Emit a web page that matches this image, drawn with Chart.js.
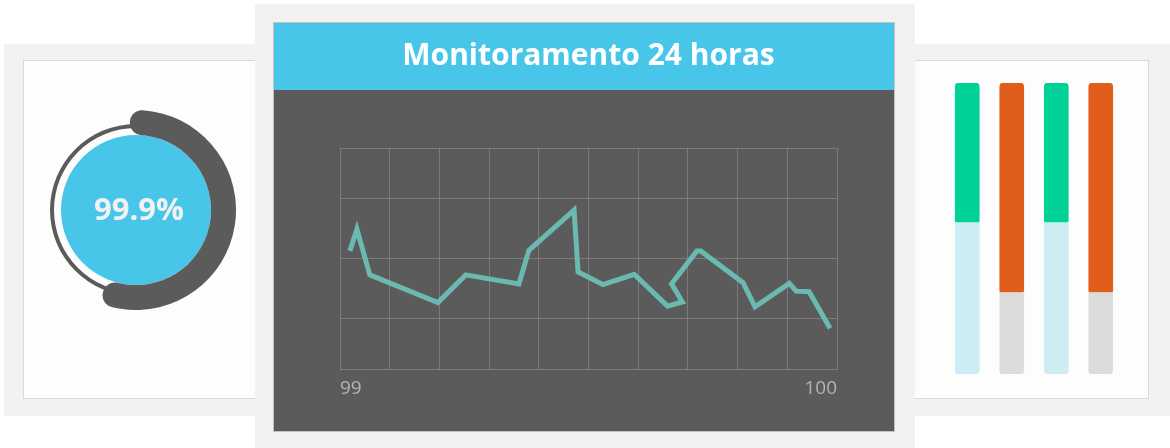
<!DOCTYPE html>
<html>
<head>
<meta charset="utf-8">
<title>Monitoramento 24 horas</title>
<script src="https://cdn.jsdelivr.net/npm/chart.js"></script>
<style>
  html, body { margin: 0; padding: 0; background: #ffffff; }
  body { width: 1170px; height: 448px; position: relative; overflow: hidden; }
  .frame { position: absolute; background: #f2f2f2; }
  .card { position: absolute; background: #fdfdfd; border: 1px solid #d9d9d9; box-sizing: border-box; }
  .box { position: absolute; }
  #panel { background: linear-gradient(#47c6e9 0 67px, #5b5b5b 67px); outline: 1px solid #c4c4c4; }
</style>
</head>
<body>
  <!-- left card: gauge -->
  <div class="frame" style="left:4px;top:44px;width:300px;height:372px"></div>
  <div class="card" style="left:23px;top:60px;width:280px;height:339px"></div>
  <div class="box" style="left:50px;top:124px;width:172px;height:172px"><canvas id="gaugeBase"></canvas></div>
  <div class="box" style="left:36px;top:110px;width:200px;height:200px"><canvas id="gaugeArc"></canvas></div>

  <!-- right card: bars -->
  <div class="frame" style="left:880px;top:44px;width:290px;height:372px"></div>
  <div class="card" style="left:880px;top:60px;width:269px;height:339px"></div>
  <div class="box" style="left:915px;top:60px;width:233px;height:338px"><canvas id="bars"></canvas></div>

  <!-- middle card: 24h line -->
  <div class="frame" style="left:255px;top:4px;width:660px;height:444px"></div>
  <div class="box" id="panel" style="left:274px;top:23px;width:620px;height:408px"><canvas id="line"></canvas></div>

<script>
// gauge
const gaugeLabel = '99.9%';
const gaugeValues = [57.2, 42.8];
const ringValues = [100];

// 24h line
const chartTitle = 'Monitoramento 24 horas';
const lineX = [99.02, 99.034, 99.06, 99.197, 99.253, 99.36, 99.38, 99.471, 99.479, 99.529, 99.592,
               99.659, 99.689, 99.667, 99.718, 99.726, 99.811, 99.835, 99.904, 99.918, 99.944, 99.986];
const lineY = [2.12, 2.48, 1.72, 1.26, 1.72, 1.57, 2.13, 2.80, 1.77, 1.56, 1.73,
               1.20, 1.27, 1.57, 2.12, 2.12, 1.59, 1.19, 1.58, 1.45, 1.44, 0.83];
const xGridValues = [99, 99.1, 99.2, 99.3, 99.4, 99.5, 99.6, 99.7, 99.8, 99.9, 100];
const xTickLabels = ['99', '', '', '', '', '', '', '', '', '', '100'];
const yGridValues = [0.15, 1, 2, 3, 3.833];

// bars
const barLabels = ['1', '2', '3', '4'];
const barLower = [52, 28, 52, 28];
const barUpper = [48, 72, 48, 72];
const lowerColors = ['#cdedf4', '#dcdcdc', '#cdedf4', '#dcdcdc'];
const upperColors = ['#00d196', '#e05d1c', '#00d196', '#e05d1c'];

Chart.defaults.font.family = "'Open Sans', sans-serif";
Chart.defaults.animation = false;
Chart.defaults.plugins.legend.display = false;
Chart.defaults.plugins.tooltip.enabled = false;

const CYAN = '#47c6e9';
const DARK = '#5b5b5b';

// text in the middle of the gauge
const centerText = {
    id: 'centerText',
    afterDraw(chart) {
        const {ctx, chartArea} = chart;
        const cx = (chartArea.left + chartArea.right) / 2;
        const cy = (chartArea.top + chartArea.bottom) / 2;
        ctx.save();
        ctx.font = "bold 31px 'Open Sans', sans-serif";
        ctx.fillStyle = '#f2f2f2';
        ctx.textAlign = 'center';
        ctx.textBaseline = 'middle';
        ctx.fillText(gaugeLabel, cx + 3, cy + 1);
        ctx.restore();
    }
};

const arcCommon = { borderWidth: 0, hoverBorderWidth: 0, hoverOffset: 0, offset: 0 };

// thin ring + cyan disc
new Chart(document.getElementById('gaugeBase'), {
    type: 'doughnut',
    data: {
        datasets: [
            { data: ringValues, weight: 4, backgroundColor: [DARK], ...arcCommon },
            { data: ringValues, weight: 7, backgroundColor: ['rgba(0,0,0,0)'], ...arcCommon },
            { data: ringValues, weight: 75, backgroundColor: [CYAN], ...arcCommon }
        ]
    },
    options: { responsive: true, maintainAspectRatio: false, cutout: 0 },
    plugins: [centerText]
});

// thick rounded arc
new Chart(document.getElementById('gaugeArc'), {
    type: 'doughnut',
    data: {
        datasets: [{
            data: gaugeValues,
            backgroundColor: [DARK, 'rgba(0,0,0,0)'],
            borderRadius: 12,
            ...arcCommon
        }]
    },
    options: { responsive: true, maintainAspectRatio: false, cutout: '75%', rotation: -4 }
});

// line chart
new Chart(document.getElementById('line'), {
    type: 'scatter',
    data: {
        datasets: [{
            data: lineX.map((x, i) => ({x: x, y: lineY[i]})),
            showLine: true,
            borderColor: '#6bbab2',
            borderWidth: 5,
            pointRadius: 0,
            pointHoverRadius: 0,
            borderJoinStyle: 'miter'
        }]
    },
    options: {
        responsive: true,
        maintainAspectRatio: false,
        layout: { padding: { left: 66, right: 57, top: 0, bottom: 23 } },
        plugins: {
            title: {
                display: true,
                text: chartTitle,
                color: '#ffffff',
                font: { size: 30, weight: 'bold' },
                padding: { top: 15, bottom: 74 }
            }
        },
        scales: {
            x: {
                type: 'linear',
                min: 99,
                max: 100,
                afterBuildTicks: (scale) => { scale.ticks = xGridValues.map(v => ({value: v})); },
                grid: { color: '#7b7b7b', drawTicks: false },
                border: { color: '#7b7b7b' },
                ticks: {
                    align: 'inner',
                    padding: 8,
                    color: '#b4b4b4',
                    font: { size: 19 },
                    maxRotation: 0,
                    autoSkip: false,
                    callback: (value, index) => xTickLabels[index]
                }
            },
            y: {
                type: 'linear',
                min: yGridValues[0],
                max: yGridValues[yGridValues.length - 1],
                afterBuildTicks: (scale) => { scale.ticks = yGridValues.map(v => ({value: v})); },
                grid: { color: '#7b7b7b', drawTicks: false },
                border: { color: '#7b7b7b' },
                ticks: { display: false }
            }
        }
    }
});

// stacked bars
new Chart(document.getElementById('bars'), {
    type: 'bar',
    data: {
        labels: barLabels,
        datasets: [
            {
                data: barLower,
                backgroundColor: lowerColors,
                barThickness: 24,
                borderSkipped: false,
                borderRadius: { topLeft: 0, topRight: 0, bottomLeft: 4, bottomRight: 4 }
            },
            {
                data: barUpper,
                backgroundColor: upperColors,
                barThickness: 24,
                borderSkipped: false,
                borderRadius: { topLeft: 4, topRight: 4, bottomLeft: 2, bottomRight: 2 }
            }
        ]
    },
    options: {
        responsive: true,
        maintainAspectRatio: false,
        layout: { padding: { left: 30, right: 25, top: 23, bottom: 24 } },
        scales: {
            x: { stacked: true, display: false },
            y: { stacked: true, display: false, min: 0, max: 100 }
        }
    }
});
</script>
</body>
</html>
